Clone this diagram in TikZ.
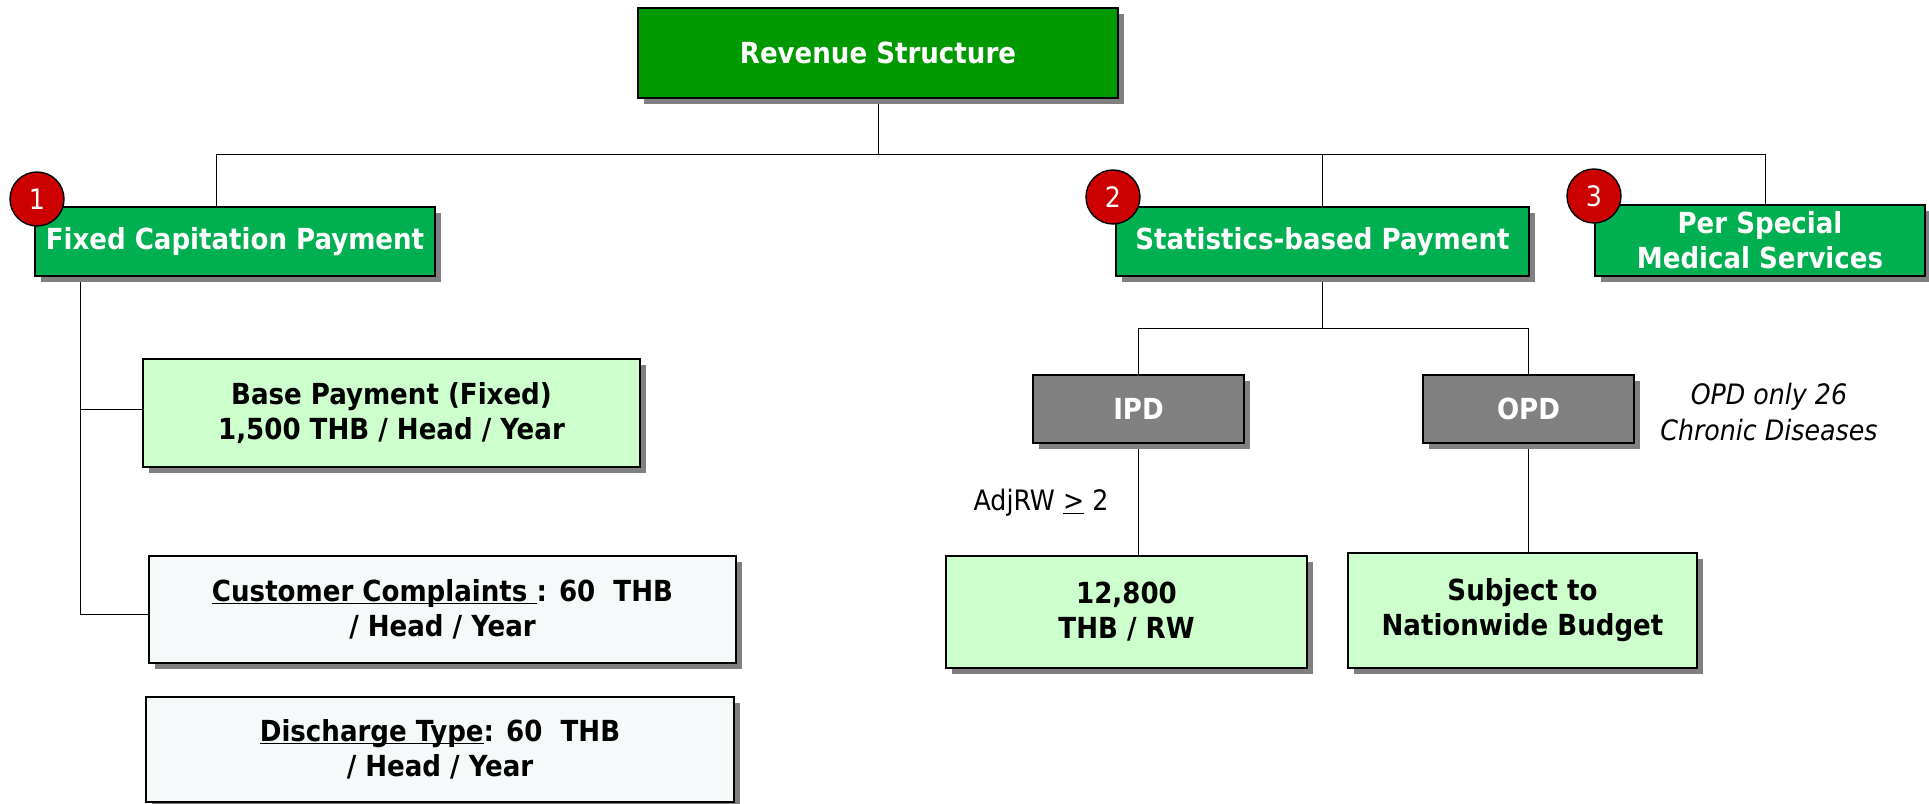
\documentclass[tikz,border=0pt]{standalone}
\usepackage{fontspec}
\setmainfont{DejaVu Sans Condensed}
\usetikzlibrary{shadows,backgrounds}
\definecolor{rootgreen}{HTML}{009900}
\definecolor{headgreen}{HTML}{00B050}
\definecolor{palegreen}{HTML}{CCFFCC}
\definecolor{paleblue}{HTML}{F6F9FA}
\definecolor{boxgray}{HTML}{808080}
\definecolor{badgered}{HTML}{CC0000}
\newcommand{\lowunder}[1]{\underline{\smash{#1}}}

\begin{document}
\begin{tikzpicture}[
  box/.style={draw=black, line width=1pt, align=center, inner sep=2pt,
    font=\bfseries\fontsize{16.5}{20}\selectfont,
    drop shadow={shadow xshift=0.12cm, shadow yshift=-0.12cm, fill=boxgray, opacity=1}},
  rootbox/.style={box, fill=rootgreen, text=white},
  headbox/.style={box, fill=headgreen, text=white},
  valuebox/.style={box, fill=palegreen},
  extrabox/.style={box, fill=paleblue},
  graybox/.style={box, fill=boxgray, text=white},
  badge/.style={circle, draw=black, line width=0.8pt, fill=badgered, text=white,
    minimum size=1.08cm, inner sep=0pt, font=\fontsize{16}{18}\selectfont},
  link/.style={line width=0.8pt}
]
  \useasboundingbox (0,0) rectangle (38.58,-16.08);

  % top level
  \node [rootbox, minimum width=9.6cm, minimum height=1.8cm] (rev) at (17.56,-1.06) {Revenue Structure};
  \node [headbox, minimum width=8cm, minimum height=1.38cm] (fixed) at (4.7,-4.83) {Fixed Capitation Payment};
  \node [headbox, minimum width=8.26cm, minimum height=1.38cm] (stat) at (26.45,-4.83) {Statistics-based Payment};
  \node [headbox, minimum width=6.6cm, minimum height=1.42cm] (spec) at (35.2,-4.81) {Per Special\\Medical Services};

  % fixed capitation
  \node [valuebox, minimum width=9.94cm, minimum height=2.16cm] (base) at (7.83,-8.26) {Base Payment (Fixed)\\1,500 THB / Head / Year};
  \node [extrabox, minimum width=11.74cm, minimum height=2.14cm] (comp) at (8.85,-12.19) {\lowunder{Customer Complaints\ }: 60~~THB\\/ Head / Year};
  \node [extrabox, minimum width=11.76cm, minimum height=2.1cm] (disc) at (8.8,-14.99) {\lowunder{Discharge Type}: 60~~THB\\/ Head / Year};

  % statistics based
  \node [graybox, minimum width=4.22cm, minimum height=1.36cm] (ipd) at (22.77,-8.18) {IPD};
  \node [graybox, minimum width=4.22cm, minimum height=1.36cm] (opd) at (30.57,-8.18) {OPD};
  \node [valuebox, minimum width=7.22cm, minimum height=2.24cm] (rw) at (22.53,-12.24) {12,800\\THB / RW};
  \node [valuebox, minimum width=6.98cm, minimum height=2.3cm] (budget) at (30.45,-12.21) {Subject to\\Nationwide Budget};

  \node [font=\fontsize{16}{18}\selectfont] (adj) at (20.82,-10.06) {AdjRW \lowunder{>} 2};
  \node [font=\itshape\fontsize{16}{20}\selectfont, align=center] (note) at (35.38,-8.24) {OPD only 26\\Chronic Diseases};

  % badges
  \node [badge] (one) at (0.74,-3.98) {1};
  \node [badge] (two) at (22.26,-3.94) {2};
  \node [badge] (three) at (31.88,-3.92) {3};

  \coordinate (barL) at (4.32,-3.08);
  \coordinate (barR) at (35.3,-3.08);
  \coordinate (midbar) at (0,-6.56);
  \coordinate (trunk) at (1.6,0);
  \coordinate (baseJoin) at ([yshift=0.08cm]base.west);
  \coordinate (compJoin) at ([yshift=-0.09cm]comp.west);

  \begin{scope}[on background layer, link]
    \draw (rev.south) -- (rev.south |- barL);
    \draw (barL) -- (barR);
    \draw (barL) -- (barL |- fixed.north);
    \draw (stat.north |- barL) -- (stat.north);
    \draw (barR) -- (barR |- spec.north);
    \draw (trunk |- fixed.south) |- (compJoin);
    \draw (trunk |- baseJoin) -- (baseJoin);
    \draw (stat.south) -- (stat.south |- midbar);
    \draw (ipd.north |- midbar) -- (opd.north |- midbar);
    \draw (ipd.north |- midbar) -- (ipd.north);
    \draw (opd.north |- midbar) -- (opd.north);
    \draw (ipd.south) -- (ipd.south |- rw.north);
    \draw (opd.south) -- (opd.south |- budget.north);
  \end{scope}
\end{tikzpicture}
\end{document}
